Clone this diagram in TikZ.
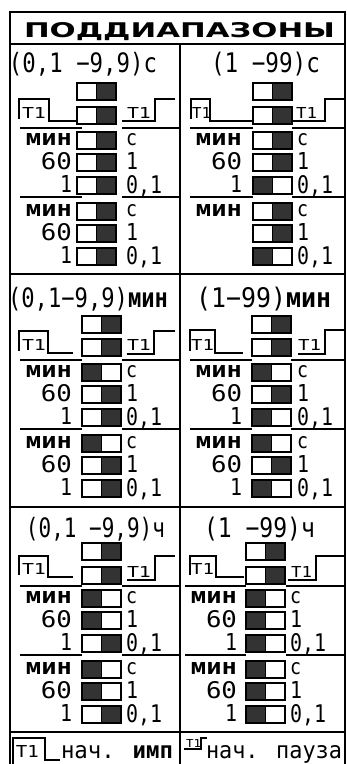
\documentclass[tikz,border=0pt]{standalone}
\usepackage{fontspec}
\usepackage{graphicx}
\newfontfamily\mono{DejaVu Sans Mono}
\newfontfamily\tfont{DejaVu Sans}
\newcommand\fitt[3]{\resizebox{#1pt}{#2pt}{#3}}
\newcommand\fitT[3]{\resizebox*{#1pt}{#2pt}{#3}}
\newcounter{nd}
\colorlet{dk}{black!80}
\tikzset{
  ln/.style={line width=1.2pt},
  fr/.style={line width=1.5pt},
  bx/.style={line width=1.4pt},
  txt/.style={inner sep=0pt, outer sep=0pt},
  nm/.code={\stepcounter{nd}\pgfkeysalso{name/.expanded={n\arabic{nd}}}}
}
% switch box: x, y(top), state (0: dark right, 1: dark left)
\newcommand\swbox[3]{%
  \ifnum#3=0 \fill[dk] (#1+19.5,#2) rectangle (#1+39,#2+17);%
  \else \fill[dk] (#1,#2) rectangle (#1+19.5,#2+17);\fi
  \draw[bx] (#1,#2) rectangle (#1+39,#2+17);
  \draw[bx] (#1+19.5,#2) -- (#1+19.5,#2+17);}
% group of three rows: bx, y0, left-label right edge, right-label left edge, s1, s2, s3, show 60/1
\newcommand\grp[8]{%
  \swbox{#1}{#2}{#5}\swbox{#1}{#2+22}{#6}\swbox{#1}{#2+45}{#7}%
  \node[txt,nm,anchor=base east] at (#3+2,#2+13) {\fitt{46}{12}{\mono\bfseries мин}};
  \ifnum#8=1
  \node[txt,nm,anchor=base east] at (#3+2,#2+37) {\fitt{31}{17}{\mono 60}};
  \node[txt,nm,anchor=base east] at (#3+2,#2+60) {\fitt{12}{17}{\mono 1}};
  \fi
  \node[txt,nm,anchor=base west] at (#4-2,#2+13) {\fitt{11}{12}{\mono с}};
  \node[txt,nm,anchor=base west] at (#4-2,#2+37) {\fitt{12}{17}{\mono 1}};
  \node[txt,nm,anchor=base west] at (#4-2,#2+61) {\fitt{36}{18}{\mono 0,1}};
}
\newcommand\tone[3]{\node[txt,nm,anchor=base west] at (#1,#2) {\fitt{#3}{11}{\mono Т1}};}
\begin{document}
\begin{tikzpicture}[x=1pt,y=-1pt]
\useasboundingbox (0,0) rectangle (346,764);
\fill[white] (0,0) rectangle (346,764);
% frame and grid
\draw[fr] (10,766) -- (10,12) -- (345,12) -- (345,766);
\draw[fr] (10,44) -- (345,44);
\draw[fr] (10,274) -- (345,274);
\draw[fr] (10,507) -- (345,507);
\draw[fr] (10,732) -- (345,732);
\draw[fr] (180,44) -- (180,766);
% title
\node[txt,nm,anchor=base west] at (24,37) {\fitt{311}{15}{\tfont\bfseries ПОДДИАПАЗОНЫ}};

% ===== Section 1 (seconds)
\node[txt,nm,anchor=north west] at (9,52) {\fitT{148}{24}{\mono (0,1 −9,9)с}};
\node[txt,nm,anchor=north west] at (211,52) {\fitT{109}{24}{\mono (1 −99)с}};
% left column top
\swbox{77}{83}{0}\swbox{77}{107}{0}
\draw[ln] (19,119) -- (19,99) -- (49,99) -- (49,121) -- (77,121);
\tone{22}{118}{24}
\draw[ln] (122,121) -- (155,121) -- (155,99) -- (175,99);
\tone{127}{118}{24}
% right column top
\swbox{253}{83}{0}\swbox{253}{107}{0}
\draw[ln] (191,119) -- (191,99) -- (210,99) -- (210,121) -- (253,121);
\tone{192}{118}{19}
\draw[ln] (292,121) -- (325,121) -- (325,99) -- (346,99);
\tone{296}{118}{21}
% separators
\draw[ln] (20,128) -- (82,128); \draw[ln] (122,128) -- (180,128);
\draw[ln] (20,197) -- (82,197); \draw[ln] (122,197) -- (180,197);
\draw[ln] (190,128) -- (253,128); \draw[ln] (292,128) -- (345,128);
\draw[ln] (190,197) -- (253,197); \draw[ln] (292,197) -- (345,197);
\grp{77}{132}{70}{128}{0}{0}{0}{1}
\grp{77}{203}{70}{128}{0}{0}{0}{1}
\grp{253}{132}{240}{299}{0}{0}{1}{1}
\grp{253}{203}{240}{299}{0}{0}{1}{0}

% ===== Section 2 (minutes)
\node[txt,nm,anchor=north west] at (8,287) {\fitT{160}{24}{\mono (0,1−9,9){\bfseries мин}}};
\node[txt,nm,anchor=north west] at (196,287) {\fitT{135}{24}{\mono (1−99){\bfseries мин}}};
\swbox{82}{316}{0}\swbox{82}{339}{0}
\draw[ln] (19,351) -- (19,331) -- (48,331) -- (48,353) -- (73,353);
\tone{22}{350}{24}
\draw[ln] (127,354) -- (154,354) -- (154,331) -- (175,331);
\tone{127}{350}{24}
\swbox{252}{316}{0}\swbox{252}{339}{0}
\draw[ln] (190,351) -- (190,330) -- (215,330) -- (215,353) -- (243,353);
\tone{191}{350}{23}
\draw[ln] (298,354) -- (325,354) -- (325,330) -- (346,330);
\tone{298}{350}{23}
\draw[ln] (20,360) -- (82,360); \draw[ln] (122,360) -- (180,360);
\draw[ln] (20,429) -- (82,429); \draw[ln] (122,429) -- (180,429);
\draw[ln] (190,360) -- (252,360); \draw[ln] (291,360) -- (345,360);
\draw[ln] (190,429) -- (252,429); \draw[ln] (291,429) -- (345,429);
\grp{82}{364}{70}{128}{1}{0}{0}{1}
\grp{82}{435}{70}{128}{1}{0}{0}{1}
\grp{252}{364}{240}{299}{1}{0}{1}{1}
\grp{252}{435}{240}{299}{1}{0}{1}{1}

% ===== Section 3 (hours)
\node[txt,nm,anchor=north west] at (26,517) {\fitT{139}{24}{\mono (0,1 −9,9)ч}};
\node[txt,nm,anchor=north west] at (204,517) {\fitT{111}{24}{\mono (1 −99)ч}};
\swbox{82}{543}{0}\swbox{82}{567}{0}
\draw[ln] (19,575) -- (19,556) -- (48,556) -- (48,577) -- (73,577);
\tone{22}{574}{24}
\draw[ln] (127,580) -- (155,580) -- (155,556) -- (175,556);
\tone{127}{577}{24}
\swbox{246}{543}{0}\swbox{246}{567}{0}
\draw[ln] (190,575) -- (190,556) -- (216,556) -- (216,577) -- (244,577);
\tone{191}{574}{23}
\draw[ln] (288,580) -- (316,580) -- (316,556) -- (346,556);
\tone{291}{577}{21}
\draw[ln] (20,586) -- (82,586); \draw[ln] (122,586) -- (180,586);
\draw[ln] (20,655) -- (82,655); \draw[ln] (122,655) -- (180,655);
\draw[ln] (185,586) -- (246,586); \draw[ln] (286,586) -- (345,586);
\draw[ln] (185,655) -- (246,655); \draw[ln] (286,655) -- (345,655);
\grp{82}{590}{70}{128}{1}{1}{0}{1}
\grp{82}{661}{70}{128}{1}{1}{0}{1}
\grp{246}{590}{235}{292}{1}{1}{1}{1}
\grp{246}{661}{235}{292}{1}{1}{1}{1}

% ===== Footer
\draw[ln] (13,766) -- (13,738) -- (45,738) -- (45,760) -- (60,760);
\node[txt,nm,anchor=base west] at (16,757) {\fitt{23}{12}{\mono Т1}};
\node[txt,nm,anchor=base west] at (61,758) {\fitt{112}{13}{\mono нач. {\bfseries имп}}};
\draw[ln] (184,749) -- (201,749) -- (201,738) -- (207,738);
\node[txt,nm,anchor=base west] at (186,747) {\fitt{15}{8}{\mono Т1}};
\node[txt,nm,anchor=base west] at (206,758) {\fitt{136}{13}{\mono нач. пауза}};
\end{tikzpicture}
\end{document}
